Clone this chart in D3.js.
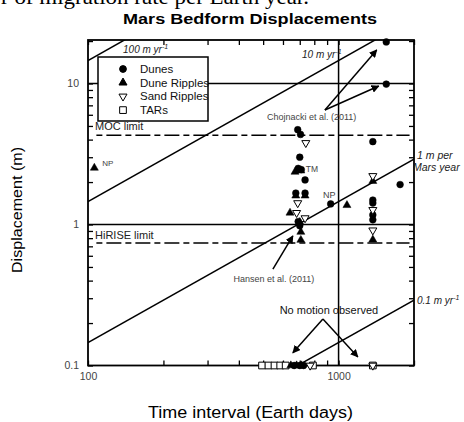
<!DOCTYPE html>
<html><head><meta charset="utf-8">
<script src="https://cdn.jsdelivr.net/npm/d3@7"></script>
<style>
body{margin:0;background:#fff;}
svg{display:block;}
text{font-family:"Liberation Sans",Arial,sans-serif;}
</style></head>
<body>
<script>
// ---- data ----
const dunesDays = [1550,1550,687,705,700,690,710,735,675,735,690,700,930,1370,1370,1370,1370,1370,1760,665,700,725];
const dunesDisp = [19.7,9.9,4.7,4.35,3.0,2.5,2.45,2.07,1.67,1.67,1.05,0.98,1.40,3.87,1.49,1.42,1.17,1.08,1.92,0.1,0.1,0.1];
const duneRipDays = [106,670,707,675,735,640,700,707,707,1080,1370,1370,645,680,712];
const duneRipDisp = [2.52,2.36,2.41,1.60,1.60,1.21,1.04,0.885,0.776,1.37,2.03,0.78,0.1,0.1,0.1];
const sandRipDays = [740,687,680,735,1370,1370,1370,770,1370];
const sandRipDisp = [3.79,1.42,1.21,1.11,2.21,1.27,0.91,0.1,0.1];
const tarDays = [495,525,555,585,615,790,1370];
const tarDisp = [0.1,0.1,0.1,0.1,0.1,0.1,0.1];
const rates = [100,10,1,0.1];           // m per Mars year
const marsYear = 687;                    // Earth days
const limits = [{name:"MOC limit", v:4.3},{name:"HiRISE limit", v:0.74}];
const xTicks = [100,200,300,400,500,600,700,800,900,1000,2000];
const yTicks = [0.1,0.2,0.3,0.4,0.5,0.6,0.7,0.8,0.9,1,2,3,4,5,6,7,8,9,10,20];
const xLabels = [100,1000];
const yLabels = [0.1,1,10];
const legendNames = ["Dunes","Dune Ripples","Sand Ripples","TARs"];

const W=464,H=422;
const svg=d3.select("body").append("svg").attr("width",W).attr("height",H);
const x=d3.scaleLog().domain([100,2000]).range([88,414]);
const y=d3.scaleLog().domain([0.1,20.35]).range([365.5,40]);

// cut-off text at top
svg.append("text").attr("x",1).attr("y",4).style("font-family","'Liberation Serif','Times New Roman',serif")
  .attr("font-size",22).attr("textLength",308).attr("lengthAdjust","spacingAndGlyphs").text("r of migration rate per Earth year.");
// title
svg.append("text").attr("x",123).attr("y",24).attr("font-size",15.5)
  .attr("font-weight","bold").attr("textLength",254).attr("lengthAdjust","spacingAndGlyphs").text("Mars Bedform Displacements");

svg.append("clipPath").attr("id","clip").append("rect").attr("x",88).attr("y",40).attr("width",326).attr("height",325.5);
const plot=svg.append("g").attr("clip-path","url(#clip)");

// rate lines
rates.forEach(r=>{
  plot.append("line").attr("x1",x(100)).attr("y1",y(r*100/marsYear))
    .attr("x2",x(2000)).attr("y2",y(r*2000/marsYear)).attr("stroke","#000").attr("stroke-width",1.5);
});
// major grid lines
[1,10].forEach(v=>plot.append("line").attr("x1",88).attr("x2",414).attr("y1",y(v)).attr("y2",y(v)).attr("stroke","#000").attr("stroke-width",1.5));
plot.append("line").attr("x1",x(1000)).attr("x2",x(1000)).attr("y1",40).attr("y2",365.5).attr("stroke","#000").attr("stroke-width",1.5);
// limits
limits.forEach(l=>{
  plot.append("line").attr("x1",x(108)).attr("x2",x(1920)).attr("y1",y(l.v)).attr("y2",y(l.v))
    .attr("stroke","#000").attr("stroke-width",1.5).attr("stroke-dasharray","6,4,15,4");
});
svg.append("text").attr("x",95).attr("y",y(4.3)-5).attr("font-size",11).attr("fill","#222").text("MOC limit");
svg.append("text").attr("x",95).attr("y",y(0.74)-4).attr("font-size",11).attr("fill","#222").text("HiRISE limit");

// axes
const bx=svg.append("g").attr("transform","translate(0,365.5)").call(d3.axisBottom(x).tickValues(xTicks).tickSizeInner(-5).tickSizeOuter(0).tickPadding(7).tickFormat(d=>xLabels.includes(d)?d:""));
const tx=svg.append("g").attr("transform","translate(0,40)").call(d3.axisTop(x).tickValues(xTicks).tickSizeInner(-5).tickSizeOuter(0).tickFormat(""));
const ly=svg.append("g").attr("transform","translate(88,0)").call(d3.axisLeft(y).tickValues(yTicks).tickSizeInner(-5).tickSizeOuter(0).tickPadding(9).tickFormat(d=>yLabels.includes(d)?d:""));
const ry=svg.append("g").attr("transform","translate(414,0)").call(d3.axisRight(y).tickValues(yTicks).tickSizeInner(-5).tickSizeOuter(0).tickFormat(""));
[bx,tx,ly,ry].forEach(g=>{g.select(".domain").remove();g.selectAll("line").attr("stroke","#000").attr("stroke-width",1.3);
  g.selectAll("text").attr("font-size",10.5).attr("fill","#444").style("font-family","'Liberation Sans',Arial,sans-serif");});

// frame
svg.append("rect").attr("x",88).attr("y",40).attr("width",326).attr("height",325.5).attr("fill","none").attr("stroke","#000").attr("stroke-width",1.8);

// rate labels
function rateLabel(px,py,main,sup){
  const t=svg.append("text").attr("x",px).attr("y",py).attr("font-size",10).attr("font-style","italic").attr("fill","#222");
  t.append("tspan").text(main);
  if(sup) t.append("tspan").attr("font-size",7).attr("dy",-4).text(sup);
}
rateLabel(x(138),y(16.5),"100 m yr","-1");
rateLabel(x(715),y(15.2),"10 m yr","-1");
rateLabel(417,y(0.275),"0.1 m yr","-1");
svg.append("text").attr("x",417).attr("y",159).attr("font-size",10.5).attr("font-style","italic").attr("fill","#222").text("1 m per");
svg.append("text").attr("x",413).attr("y",171).attr("font-size",10.5).attr("font-style","italic").attr("fill","#222").text("Mars year");

// arrows
const defs=svg.append("defs");
defs.append("marker").attr("id","ah").attr("viewBox","0 0 10 10").attr("refX",9).attr("refY",5)
  .attr("markerWidth",8).attr("markerHeight",8).attr("markerUnits","userSpaceOnUse").attr("orient","auto")
  .append("path").attr("d","M0,0L10,5L0,10z").attr("fill","#000");
function arrow(d1,v1,d2,v2){
  svg.append("line").attr("x1",x(d1)).attr("y1",y(v1)).attr("x2",x(d2)).attr("y2",y(v2))
    .attr("stroke","#000").attr("stroke-width",1.5).attr("marker-end","url(#ah)");
}
arrow(882,6.49,1420,17.3);
arrow(882,6.49,1447,9.6);
arrow(547,0.483,657,0.83);
arrow(866,0.214,657,0.123);
arrow(866,0.214,1194,0.115);

svg.append("text").attr("x",x(518)).attr("y",y(5.55)).attr("font-size",9).attr("fill","#444").text("Chojnacki et al. (2011)");
svg.append("text").attr("x",x(552)).attr("y",y(0.39)).attr("text-anchor","middle").attr("font-size",9).attr("fill","#444").text("Hansen et al. (2011)");
svg.append("text").attr("x",x(915)).attr("y",y(0.232)).attr("text-anchor","middle").attr("font-size",11).attr("fill","#111").text("No motion observed");
svg.append("text").attr("x",x(740)).attr("y",y(2.36)).attr("font-size",8.5).attr("fill","#444").text("TM");
svg.append("text").attr("x",x(866)).attr("y",y(1.54)).attr("font-size",9).attr("fill","#444").text("NP");
svg.append("text").attr("x",x(114)).attr("y",y(2.62)).attr("font-size",8).attr("fill","#444").text("NP");

// markers
const symCircle=d3.symbol().type(d3.symbolCircle).size(36)();
const symTri=d3.symbol().type(d3.symbolTriangle).size(28)();
const symSquare=d3.symbol().type(d3.symbolSquare).size(45)();
function pts(days,disp,path,fill,rot){
  svg.append("g").selectAll("path").data(days.map((d,i)=>[d,disp[i]])).join("path")
    .attr("d",path).attr("transform",d=>`translate(${x(d[0])},${y(d[1])})${rot?" rotate(180)":""}`)
    .attr("fill",fill).attr("stroke","#000").attr("stroke-width",fill==="#000"?0.5:1);
}
pts(tarDays,tarDisp,symSquare,"#fff",false);
pts(dunesDays,dunesDisp,symCircle,"#000",false);
pts(duneRipDays,duneRipDisp,symTri,"#000",false);
pts(sandRipDays,sandRipDisp,symTri,"#fff",true);

// legend
const lg=svg.append("g");
lg.append("rect").attr("x",98).attr("y",57).attr("width",110).attr("height",64).attr("fill","#fff").attr("stroke","#000").attr("stroke-width",1.5);
const legSyms=[[symCircle,"#000",false],[symTri,"#000",false],[symTri,"#fff",true],[symSquare,"#fff",false]];
legendNames.forEach((n,i)=>{
  const yy=69+i*13.7;
  lg.append("path").attr("d",legSyms[i][0]).attr("transform",`translate(123,${yy})${legSyms[i][2]?" rotate(180)":""}`)
    .attr("fill",legSyms[i][1]).attr("stroke","#000").attr("stroke-width",1);
  lg.append("text").attr("x",140).attr("y",yy+4).attr("font-size",11.5).attr("fill","#111").text(n);
});

// axis titles
svg.append("text").attr("transform","translate(22,210) rotate(-90)").attr("text-anchor","middle").attr("font-size",15)
  .attr("textLength",126).attr("lengthAdjust","spacingAndGlyphs").text("Displacement (m)");
svg.append("text").attr("x",148).attr("y",418).attr("font-size",16)
  .attr("textLength",205).attr("lengthAdjust","spacingAndGlyphs").text("Time interval (Earth days)");
</script>
</body></html>
